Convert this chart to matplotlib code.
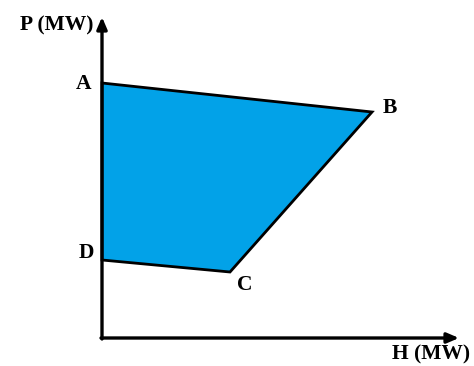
import matplotlib
matplotlib.use("Agg")
import matplotlib.pyplot as plt
from matplotlib.patches import Polygon

# corner points of the operating region (H, P)
labels = ["A", "B", "C", "D"]
heat = [0, 270, 128, 0]
power = [255, 226, 66, 78]

# label offsets for each corner point
label_dx = [-18, 18, 15, -16]
label_dy = [-1, 4, -13, 7]

fig = plt.figure(figsize=(4.74, 3.66), dpi=100)
ax = fig.add_axes([0, 0, 1, 1])
ax.set_xlim(-102, 372)
ax.set_ylim(-28, 338)
ax.axis("off")

font = dict(family="Liberation Serif", fontweight="bold", fontsize=15.5)

poly = Polygon(list(zip(heat, power)), closed=True, facecolor="#02A2E8",
               edgecolor="black", linewidth=2.0, joinstyle="miter")
ax.add_patch(poly)

# axes with arrows
arrow = dict(arrowstyle="-|>,head_length=0.7,head_width=0.3", color="black",
             linewidth=2.4, shrinkA=0, shrinkB=0)
ax.annotate("", xy=(357, 0), xytext=(-1, 0), arrowprops=arrow)
ax.annotate("", xy=(0, 321), xytext=(0, -1), arrowprops=arrow)

for lab, h, p, dx, dy in zip(labels, heat, power, label_dx, label_dy):
    ax.text(h + dx, p + dy, lab, ha="center", va="center", **font)

ax.text(-8, 313, "P (MW)", ha="right", va="center", **font)
ax.text(368, -26, "H (MW)", ha="right", va="bottom", **font)

plt.savefig("out.png", dpi=100)
plt.close()
